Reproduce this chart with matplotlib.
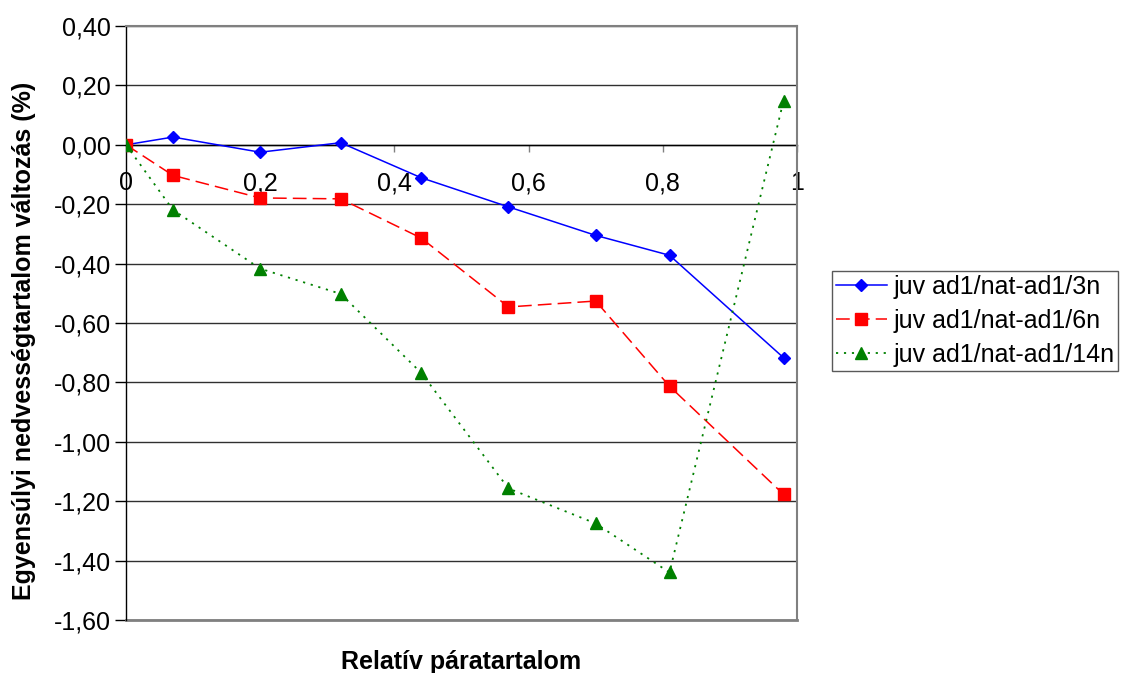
import matplotlib
matplotlib.use("Agg")
import matplotlib.pyplot as plt
from matplotlib.ticker import FuncFormatter, MultipleLocator

plt.rcParams['font.family'] = ['Liberation Sans', 'DejaVu Sans']

# Relative humidity (x) and change of equilibrium moisture content (%)
rel_humidity = [0, 0.07, 0.2, 0.32, 0.44, 0.57, 0.7, 0.81, 0.98]
series_3n = [0.00, 0.026, -0.025, 0.007, -0.111, -0.209, -0.305, -0.372, -0.717]
series_6n = [0.00, -0.103, -0.179, -0.182, -0.314, -0.546, -0.526, -0.813, -1.177]
series_14n = [0.00, -0.219, -0.417, -0.502, -0.768, -1.157, -1.275, -1.44, 0.149]
labels = ["juv ad1/nat-ad1/3n", "juv ad1/nat-ad1/6n", "juv ad1/nat-ad1/14n"]

W, H = 1123, 673
fig = plt.figure(figsize=(W / 100, H / 100), dpi=100)
ax = fig.add_axes([126 / W, 1 - 620 / H, (797 - 126) / W, (620 - 26) / H])

fs = 18

ax.plot(rel_humidity, series_3n, color='#0000FF', lw=1.1, marker='D', ms=6.6,
        label=labels[0], zorder=4)
ax.plot(rel_humidity, series_6n, color='#FF0000', lw=1.1, ls=(0, (9, 4)),
        marker='s', ms=8.5, label=labels[1], zorder=4)
ax.plot(rel_humidity, series_14n, color='#008000', lw=1.3, ls=(0, (1.2, 3.2)),
        marker='^', ms=9.0, label=labels[2], zorder=4)

ax.set_xlim(0, 1)
ax.set_ylim(-1.6, 0.4)
ax.xaxis.set_major_locator(MultipleLocator(0.2))
ax.yaxis.set_major_locator(MultipleLocator(0.2))


def comma_fmt_x(v, pos):
    if abs(v) < 1e-9:
        return "0"
    if abs(v - 1) < 1e-9:
        return "1"
    return f"{v:.1f}".replace('.', ',')


def comma_fmt_y(v, pos):
    s = f"{v:.2f}".replace('.', ',')
    if s == "-0,00":
        s = "0,00"
    return s


ax.xaxis.set_major_formatter(FuncFormatter(comma_fmt_x))
ax.yaxis.set_major_formatter(FuncFormatter(comma_fmt_y))

# Gridlines
ax.grid(axis='y', color='#303030', lw=1.0, zorder=1)
ax.set_axisbelow(True)

# Spines: x axis crosses at zero, plot area framed in gray
ax.spines['bottom'].set_position(('data', 0))
ax.spines['bottom'].set_color('black')
ax.spines['bottom'].set_linewidth(1.0)
ax.spines['bottom'].set_zorder(2)
ax.spines['left'].set_color('black')
ax.spines['left'].set_linewidth(1.0)
for side in ('top', 'right'):
    ax.spines[side].set_color('#808080')
    ax.spines[side].set_linewidth(1.5)
ax.axhline(-1.6, color='#808080', lw=2.0, zorder=1, clip_on=False)

ax.tick_params(axis='x', direction='out', length=5, width=1, pad=14,
               labelsize=fs, color='#808080')
ax.tick_params(axis='y', direction='out', length=8, width=1, pad=3,
               labelsize=fs)

ax.set_xlabel("Relatív páratartalom", fontsize=fs, fontweight='bold')
ax.xaxis.set_label_coords(0.5, -0.071)
ax.xaxis.label.set_va('center')
ax.set_ylabel("Egyensúlyi nedvességtartalom változás (%)", fontsize=fs,
              fontweight='bold')
ax.yaxis.set_label_coords(-0.152, 0.47)
ax.yaxis.label.set_va('center')

leg = fig.legend(loc='upper left', bbox_to_anchor=(832 / W, 1 - 271 / H),
                 fontsize=fs, frameon=True, fancybox=False, shadow=False,
                 handlelength=2.05, handletextpad=0.25, labelspacing=0.4,
                 borderpad=0.15, borderaxespad=0.0, markerscale=1.0)
leg.get_frame().set_edgecolor('#303030')
leg.get_frame().set_linewidth(1.0)

fig.savefig("out.png", dpi=100)
